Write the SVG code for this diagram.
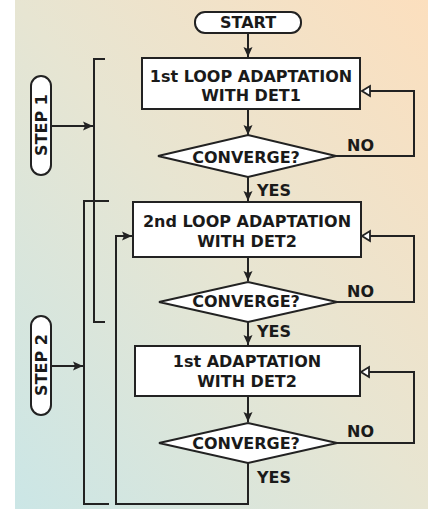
<svg xmlns="http://www.w3.org/2000/svg" width="428" height="509" viewBox="0 0 428 509">
<defs>
<linearGradient id="bg" x1="0" y1="1" x2="1" y2="0">
<stop offset="0" stop-color="#cbe6e6"/>
<stop offset="0.5" stop-color="#e7e5d2"/>
<stop offset="1" stop-color="#fcdfbe"/>
</linearGradient>
<marker id="ah" markerUnits="userSpaceOnUse" markerWidth="12" markerHeight="12" viewBox="0 0 12 12" refX="11" refY="6" orient="auto">
<path d="M1,1.5 L11,6 L1,10.5 L3,6 Z" fill="#222"/>
</marker>
<marker id="oh" markerUnits="userSpaceOnUse" markerWidth="12" markerHeight="14" viewBox="0 0 12 14" refX="10.5" refY="7" orient="auto">
<path d="M2.5,2 L10.5,7 L2.5,12 Z" fill="#fff" stroke="#222" stroke-width="1.8" stroke-linejoin="miter"/>
</marker>
</defs>
<style>
.n{fill:#fff;stroke:#222;stroke-width:2}
.c{fill:none;stroke:#222;stroke-width:2}
.t{font-family:"DejaVu Sans",sans-serif;font-weight:bold;font-size:16px;fill:#1a1a1a;text-anchor:middle}
.l{font-family:"DejaVu Sans",sans-serif;font-weight:bold;font-size:16px;fill:#1a1a1a}
</style>
<rect x="15" y="0" width="413" height="509" fill="url(#bg)"/>
<g id="connectors">
<path class="c" d="M248,33 V57" marker-end="url(#ah)"/>
<path class="c" d="M248,109 V135" marker-end="url(#ah)"/>
<path class="c" d="M248,177 V201" marker-end="url(#ah)"/>
<path class="c" d="M248,257 V281" marker-end="url(#ah)"/>
<path class="c" d="M248,322 V345" marker-end="url(#ah)"/>
<path class="c" d="M248,396 V422" marker-end="url(#ah)"/>
<path class="c" d="M248,463 V504 H116 V236 H132" marker-end="url(#ah)"/>
<path class="c" d="M336,156 H414 V91 H362" marker-end="url(#oh)"/>
<path class="c" d="M337,302 H414 V236 H362" marker-end="url(#oh)"/>
<path class="c" d="M337,443 H414 V372 H361" marker-end="url(#oh)"/>
<path class="c" d="M105,59 H94 V322 H105"/>
<path class="c" d="M109,201 H84 V504 H109"/>
<path class="c" d="M51,126 H93" marker-end="url(#ah)"/>
<path class="c" d="M51,366 H83" marker-end="url(#ah)"/>
<text class="l" x="347" y="151">NO</text>
<text class="l" x="347" y="297">NO</text>
<text class="l" x="347" y="437">NO</text>
<text class="l" x="257" y="196">YES</text>
<text class="l" x="257" y="337">YES</text>
<text class="l" x="257" y="483">YES</text>
</g>
<g id="start">
<rect class="n" x="195" y="12" width="106" height="21" rx="10"/>
<text class="t" x="248" y="28" font-size="15">START</text>
</g>
<g id="box1">
<rect class="n" x="142" y="58" width="218" height="51"/>
<text class="t" x="251" y="82">1st LOOP ADAPTATION</text>
<text class="t" x="251" y="101">WITH DET1</text>
</g>
<g id="dec1">
<polygon class="n" points="158,156 248,135 336,156 248,177"/>
<text class="t" x="246" y="163">CONVERGE?</text>
</g>
<g id="box2">
<rect class="n" x="133" y="202" width="228" height="55"/>
<text class="t" x="247" y="227">2nd LOOP ADAPTATION</text>
<text class="t" x="247" y="247">WITH DET2</text>
</g>
<g id="dec2">
<polygon class="n" points="159,302 248,282 337,302 248,322"/>
<text class="t" x="246" y="307">CONVERGE?</text>
</g>
<g id="box3">
<rect class="n" x="135" y="346" width="225" height="50"/>
<text class="t" x="247" y="367">1st ADAPTATION</text>
<text class="t" x="247" y="387">WITH DET2</text>
</g>
<g id="dec3">
<polygon class="n" points="159,443 248,423 337,443 248,463"/>
<text class="t" x="246" y="449">CONVERGE?</text>
</g>
<g id="step1">
<rect class="n" x="31" y="76" width="20" height="99" rx="10"/>
<text class="t" transform="translate(47,125) rotate(-90)" x="0" y="0" font-size="15">STEP 1</text>
</g>
<g id="step2">
<rect class="n" x="31" y="316" width="20" height="99" rx="10"/>
<text class="t" transform="translate(47,365) rotate(-90)" x="0" y="0" font-size="15">STEP 2</text>
</g>
</svg>
